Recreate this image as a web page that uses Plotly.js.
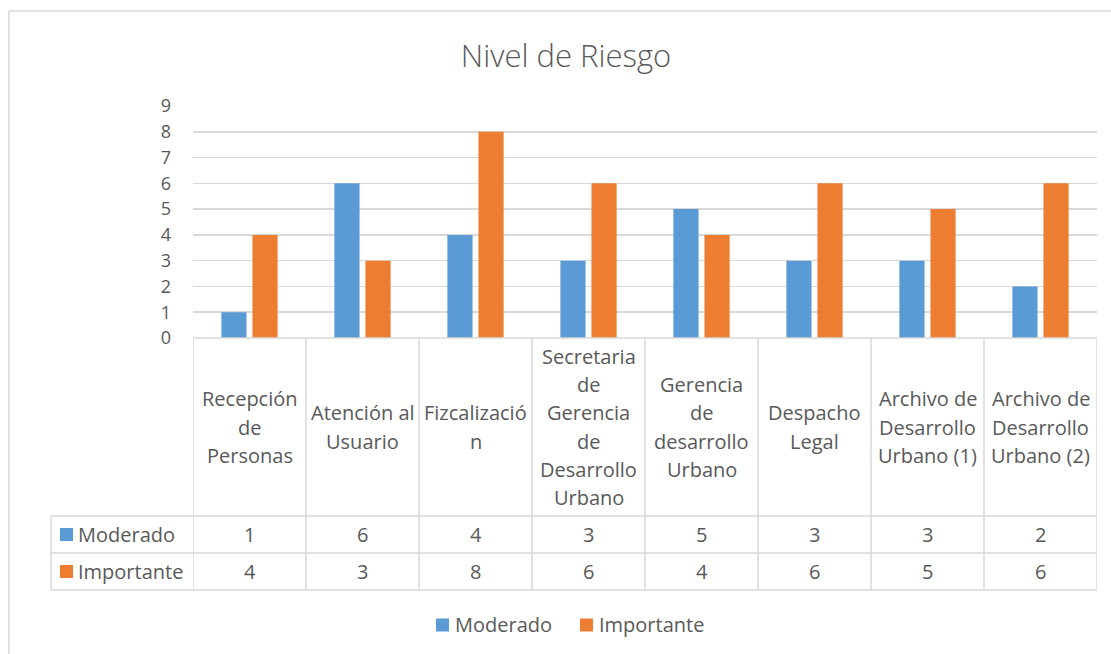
<!DOCTYPE html>
<html>
<head>
<meta charset="utf-8">
<script src="https://cdn.plot.ly/plotly-3.0.1.min.js"></script>
<style>html,body{margin:0;padding:0;background:#fff;}#chart{width:1111px;height:654px;}</style>
</head>
<body>
<div id="chart"></div>
<script>
// ---- data ----
const categories = [
  "Recepción de Personas",
  "Atención al Usuario",
  "Fizcalización",
  "Secretaria de Gerencia de Desarrollo Urbano",
  "Gerencia de desarrollo Urbano",
  "Despacho Legal",
  "Archivo de Desarrollo Urbano (1)",
  "Archivo de Desarrollo Urbano (2)"
];
const categoryLabelLines = [
  ["Recepción", "de", "Personas"],
  ["Atención al", "Usuario"],
  ["Fizcalizació", "n"],
  ["Secretaria", "de", "Gerencia", "de", "Desarrollo", "Urbano"],
  ["Gerencia", "de", "desarrollo", "Urbano"],
  ["Despacho", "Legal"],
  ["Archivo de", "Desarrollo", "Urbano (1)"],
  ["Archivo de", "Desarrollo", "Urbano (2)"]
];
const seriesNames = ["Moderado", "Importante"];
const moderado = [1, 6, 4, 3, 5, 3, 3, 2];
const importante = [4, 3, 8, 6, 4, 6, 5, 6];
const yTicks = [0, 1, 2, 3, 4, 5, 6, 7, 8, 9];

// ---- style ----
const BLUE = "#5B9BD5", ORANGE = "#ED7D31";
const TXT = "#595959", GRID = "#D9D9D9";
const FONT = "Open Sans, Noto Sans, sans-serif";
const W = 1111, H = 654;
const L = 193, R = 1097, T = 106, B = 338;
const px2x = p => (p - L) / (R - L);
const px2y = p => (B - p) / (B - T);

const values = [moderado, importante];
const colors = [BLUE, ORANGE];
const n = categories.length;

const traces = seriesNames.map((name, s) => ({
  type: "bar",
  name: name,
  x: categories,
  y: values[s],
  marker: {color: colors[s]},
  hoverinfo: "none",
  showlegend: false
}));

const shapes = [];
const annotations = [];
const line = {color: GRID, width: 1.5};
const tfont = {family: FONT, size: 20, color: TXT};

// chart frame
shapes.push({type: "line", xref: "paper", yref: "paper", x0: px2x(9), x1: px2x(W + 5), y0: px2y(11), y1: px2y(11), line: {color: GRID, width: 1.5}});
shapes.push({type: "line", xref: "paper", yref: "paper", x0: px2x(9), x1: px2x(9), y0: px2y(11), y1: px2y(H + 5), line: {color: GRID, width: 1.5}});

// table horizontal lines
const rowTop = B, headerBottom = 516, row1Bottom = 553, row2Bottom = 590;
shapes.push({type: "line", xref: "paper", yref: "paper", x0: 0, x1: 1, y0: 0, y1: 0, line});
[headerBottom, row1Bottom, row2Bottom].forEach(py => {
  shapes.push({type: "line", xref: "paper", yref: "paper", x0: px2x(51), x1: 1, y0: px2y(py), y1: px2y(py), line});
});
// table vertical lines
for (let i = 0; i <= n; i++) {
  shapes.push({type: "line", xref: "x", yref: "paper", x0: i - 0.5, x1: i - 0.5, y0: 0, y1: px2y(row2Bottom), line});
}
shapes.push({type: "line", xref: "paper", yref: "paper", x0: px2x(51), x1: px2x(51), y0: px2y(headerBottom), y1: px2y(row2Bottom), line});

// header labels
const headerCenter = (rowTop + headerBottom) / 2;
const lineSpacing = 28.3;
categoryLabelLines.forEach((lines, i) => {
  lines.forEach((t, j) => {
    const py = headerCenter + (j - (lines.length - 1) / 2) * lineSpacing;
    annotations.push({xref: "x", yref: "paper", x: i, y: px2y(py), text: t, showarrow: false,
      xanchor: "center", yanchor: "middle", font: tfont});
  });
});

// value rows
const rowCenters = [(headerBottom + row1Bottom) / 2, (row1Bottom + row2Bottom) / 2];
values.forEach((vals, s) => {
  vals.forEach((v, i) => {
    annotations.push({xref: "x", yref: "paper", x: i, y: px2y(rowCenters[s]), text: String(v), showarrow: false,
      xanchor: "center", yanchor: "middle", font: tfont});
  });
  shapes.push({type: "rect", xref: "paper", yref: "paper", x0: px2x(60), x1: px2x(73),
    y0: px2y(rowCenters[s] - 6.5), y1: px2y(rowCenters[s] + 6.5), fillcolor: colors[s], line: {width: 0}});
  annotations.push({xref: "paper", yref: "paper", x: px2x(76), y: px2y(rowCenters[s]), text: seriesNames[s], showarrow: false,
    xanchor: "left", yanchor: "middle", font: tfont});
});

// bottom legend (drawn manually)
const legendY = 625;
const legendItemX = [436, 580];
seriesNames.forEach((name, s) => {
  const x0 = legendItemX[s];
  shapes.push({type: "rect", xref: "paper", yref: "paper", x0: px2x(x0), x1: px2x(x0 + 13),
    y0: px2y(legendY - 6.5), y1: px2y(legendY + 6.5), fillcolor: colors[s], line: {width: 0}});
  annotations.push({xref: "paper", yref: "paper", x: px2x(x0 + 17), y: px2y(legendY), text: name, showarrow: false,
    xanchor: "left", yanchor: "middle", font: tfont});
});

const layout = {
  width: W, height: H,
  margin: {l: L, r: W - R, t: T, b: H - B, pad: 0},
  paper_bgcolor: "#ffffff", plot_bgcolor: "#ffffff",
  title: {text: "Nivel de Riesgo", x: 566 / W, xref: "container", xanchor: "center", y: 1 - 56 / H, yref: "container", yanchor: "middle",
    font: {family: FONT, size: 31, color: TXT, weight: 300}},
  barmode: "group", bargap: 0.45, bargroupgap: 0.19,
  xaxis: {type: "category", range: [-0.5, n - 0.5], showticklabels: false, showgrid: false, zeroline: false, showline: false, ticks: ""},
  yaxis: {range: [0, 9], tickvals: yTicks, ticktext: yTicks.map(String), showgrid: true, gridcolor: GRID, gridwidth: 1.5,
    zeroline: false, showline: false, ticks: "", ticklabelstandoff: 21,
    tickfont: {family: FONT, size: 18, color: TXT}},
  showlegend: false,
  shapes: shapes,
  annotations: annotations,
  hovermode: false
};

Plotly.newPlot("chart", traces, layout, {displayModeBar: false, staticPlot: true});
</script>
</body>
</html>
